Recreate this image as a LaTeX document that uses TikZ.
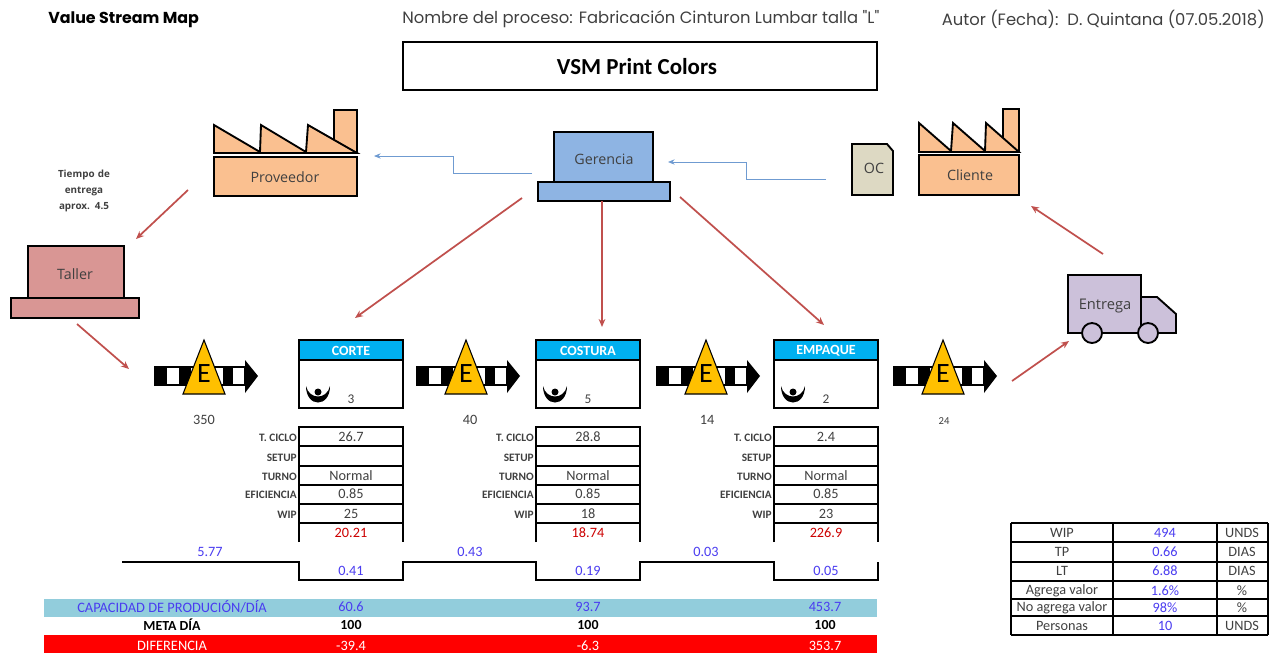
\documentclass[tikz,border=0pt]{standalone}
\usepackage{xcolor}
\usepackage{fontspec}
\usepackage{tikz}
\usetikzlibrary{arrows.meta}
\setmainfont{Carlito}
\newfontfamily\gothicfont{Poppins}
\newfontfamily\shapefont{Open Sans}
\definecolor{factoryorange}{HTML}{FAC090}
\definecolor{tallerrose}{HTML}{D99694}
\definecolor{gerenciablue}{HTML}{8EB4E3}
\definecolor{truckviolet}{HTML}{CCC1DA}
\definecolor{ocbeige}{HTML}{DDD9C3}
\definecolor{headercyan}{HTML}{00B0F0}
\definecolor{bandcyan}{HTML}{92CDDC}
\definecolor{stockyellow}{HTML}{FFC000}
\definecolor{flowred}{HTML}{C0504D}
\definecolor{infoblue}{HTML}{6F9BD1}
\definecolor{numblue}{HTML}{4A3CF0}
\definecolor{inkgray}{HTML}{404040}
\tikzset{
  box/.style={draw=black,line width=1.4pt,line join=miter},
  cell/.style={draw=black,line width=1.1pt},
  pushflow/.style={flowred,line width=1.3pt,-{Stealth[length=6pt,width=5pt]}},
  infoflow/.style={infoblue,line width=0.6pt,-{Stealth[length=5pt,width=4pt]}},
  shapetext/.style={font=\shapefont\fontsize{10.7}{12}\selectfont,text=inkgray},
  headtext/.style={inner sep=0pt,font=\gothicfont\fontsize{12.3}{14}\selectfont,text=inkgray},
  val/.style={font=\fontsize{10.7}{12}\selectfont,text=inkgray},
  blueval/.style={font=\fontsize{10.7}{12}\selectfont,text=numblue},
  redval/.style={font=\fontsize{10.7}{12}\selectfont,text=red!80!black},
  rowlabel/.style={anchor=east,inner sep=0pt,font=\bfseries\fontsize{8.5}{10}\selectfont,text=inkgray},
  bandtext/.style={font=\bfseries\fontsize{10.4}{12}\selectfont}
}
\begin{document}
\begin{tikzpicture}[x=0.75pt,y=-0.75pt]
    \useasboundingbox (0,0) rectangle (1276,653);

    \node[headtext,font=\gothicfont\bfseries\fontsize{11.9}{14}\selectfont,text=black,anchor=west] (vsmtag) at (48,20) {Value Stream Map};
    \node[headtext,anchor=west] (nombre) at (402,19) {Nombre del proceso: Fabricación Cinturon Lumbar talla "L"};
    \node[headtext,anchor=east] (autor) at (1265,19) {Autor (Fecha):\ \ D. Quintana (07.05.2018)};
    \draw[box] (403,42) rectangle (877,90);
    \node[font=\bfseries\fontsize{17.2}{20}\selectfont] (titulo) at (637,67) {VSM Print Colors};

    \draw[box,fill=factoryorange] (334,110) rectangle (357,153);
    \draw[box,fill=factoryorange] (214,153) -- (214,125) -- (260,152) -- (261,125) -- (306,152) -- (308,125) -- (357,153) -- cycle;
    \draw[box,fill=factoryorange] (214,157) rectangle (357,196);
    \node[shapetext] (proveedor) at (285,177) {Proveedor};

    \draw[box,fill=factoryorange] (1003,109) rectangle (1019,152);
    \draw[box,fill=factoryorange] (919,152) -- (919,123) -- (951,151) -- (953,123) -- (985,151) -- (986,123) -- (1019,152) -- cycle;
    \draw[box,fill=factoryorange] (919,155) rectangle (1019,195);
    \node[shapetext] (cliente) at (970,175) {Cliente};

    \draw[box,fill=ocbeige] (852,144) -- (887,144) -- (893,151) -- (893,195) -- (852,195) -- cycle;
    \node[shapetext] (oc) at (874,168) {OC};

    \draw[box,fill=gerenciablue] (554,132) rectangle (653,182);
    \draw[box,fill=gerenciablue] (538,182) rectangle (670,201);
    \node[shapetext] (gerencia) at (604,159) {Gerencia};

    \draw[box,fill=tallerrose] (28,246) rectangle (124,298);
    \draw[box,fill=tallerrose] (11,298) rectangle (139,318);
    \node[shapetext] (taller) at (75,274) {Taller};

    \node[font=\shapefont\bfseries\fontsize{7.4}{8}\selectfont,text=inkgray,align=center,inner sep=0pt,text width=60pt] (tiempo) at (84,191) {Tiempo de\\[4pt]entrega\\[4pt]aprox. 4.5};

    \draw[box,fill=truckviolet] (1141,297) -- (1157,297) -- (1176,314) -- (1176,333) -- (1141,333) -- cycle;
    \draw[box,fill=truckviolet] (1068,275) rectangle (1141,333);
    \draw[box,fill=truckviolet] (1092,333) circle (10);
    \draw[box,fill=truckviolet] (1148,333) circle (10);
    \node[shapetext,font=\shapefont\fontsize{11}{12}\selectfont] (entrega) at (1105,306) {Entrega};

    \foreach \c/\name/\num/\numx/\numy/\numsize in {204/a/350/204/420/10.7,466/b/40/470/420/10.7,706/c/14/707/420/10.7,943/d/24/944/421/8}{
      \draw[black,line width=0.8pt] ({\c-49},367) rectangle ({\c+41},385);
      \fill[black] ({\c-49},367) rectangle ({\c-37},385);
      \fill[black] ({\c-25},367) rectangle ({\c-13},385);
      \fill[black] ({\c+19},367) rectangle ({\c+29},385);
      \fill[black] ({\c+41},360) -- ({\c+54},376) -- ({\c+41},393) -- cycle;
      \draw[draw=black,line width=0.8pt,fill=stockyellow] ({\c-21},394) -- (\c,340) -- ({\c+21},394) -- cycle;
      \node[font=\fontsize{21}{24}\selectfont] (stock\name) at (\c,374) {E};
      \node[val,font=\fontsize{\numsize}{12}\selectfont] (num\name) at (\numx,\numy) {\num};
    }

    \foreach \x/\name/\title/\ops/\ciclo/\wip/\rate/\vatime in {
      299/corte/CORTE/3/26.7/25/20.21/0.41,
      536/costura/COSTURA/5/28.8/18/18.74/0.19,
      774/empaque/EMPAQUE/2/2.4/23/226.9/0.05}{
      \fill[headercyan] (\x,340) rectangle ({\x+104},360);
      \draw[box] (\x,340) rectangle ({\x+104},408);
      \draw[box] (\x,360) -- ({\x+104},360);
      \node[font=\bfseries\fontsize{10.5}{12}\selectfont,text=white] (\name) at ({\x+52},351) {\title};
      \fill[black] ({\x+19},392) circle (3.5);
      \fill[black] ({\x+7},386) .. controls ({\x+7},408) and ({\x+31},408) .. ({\x+31},386) .. controls ({\x+28},400) and ({\x+10},400) .. cycle;
      \node[font=\fontsize{10}{11}\selectfont,text=inkgray] (ops\name) at ({\x+52},399) {\ops};
      \draw[cell] (\x,542) -- (\x,427) -- ({\x+104},427) -- ({\x+104},542);
      \foreach \y in {446,466,485,504,523}{
        \draw[cell] (\x,\y) -- ({\x+104},\y);
      }
      \node[rowlabel] (lciclo\name) at ({\x-2},438) {T. CICLO};
      \node[rowlabel] (lsetup\name) at ({\x-2},458) {SETUP};
      \node[rowlabel] (lturno\name) at ({\x-2},477) {TURNO};
      \node[rowlabel] (lefic\name) at ({\x-2},495) {EFICIENCIA};
      \node[rowlabel] (lwip\name) at ({\x-2},515) {WIP};
      \node[val] (ciclo\name) at ({\x+52},437) {\ciclo};
      \node[val] (turno\name) at ({\x+52},476) {Normal};
      \node[val] (efic\name) at ({\x+52},494) {0.85};
      \node[val] (wip\name) at ({\x+52},514) {\wip};
      \node[redval] (rate\name) at ({\x+52},533) {\rate};
      \node[blueval] (va\name) at ({\x+52},571) {\vatime};
    }

    \draw[black,line width=1.3pt] (122,562) -- (299,562) -- (299,580) -- (403,580) -- (403,562) -- (536,562) -- (536,580) -- (640,580) -- (640,562) -- (774,562) -- (774,580) -- (878,580) -- (878,562);
    \node[blueval] (nvaa) at (210,552) {5.77};
    \node[blueval] (nvab) at (470,552) {0.43};
    \node[blueval] (nvac) at (706,552) {0.03};

    \fill[bandcyan] (44,599) rectangle (877,617);
    \fill[red] (44,635) rectangle (877,653);
    \node[bandtext,text=numblue,font=\fontsize{10.8}{12}\selectfont] (capacidad) at (172,607) {CAPACIDAD DE PRODUCIÓN/DÍA};
    \node[bandtext] (meta) at (172,625) {META DÍA};
    \node[bandtext,font=\fontsize{10.8}{12}\selectfont,text=white] (diferencia) at (172,646) {DIFERENCIA};
    \foreach \x/\name/\capval/\gapval in {351/a/60.6/-39.4,588/b/93.7/-6.3,825/c/453.7/353.7}{
      \node[blueval] (cap\name) at (\x,607) {\capval};
      \node[bandtext] (meta\name) at (\x,625) {100};
      \node[val,text=white] (gap\name) at (\x,646) {\gapval};
    }

    \foreach \y in {523,542,562,581,599,616,635}{
      \draw[cell] (1011,\y) -- (1268,\y);
    }
    \foreach \x in {1011,1113,1217,1268}{
      \draw[cell] (\x,523) -- (\x,635);
    }
    \foreach \y/\name/\label/\num/\unit in {533/a/WIP/494/UNDS,552/b/TP/0.66/DIAS,571/c/LT/6.88/DIAS,591/d/Agrega valor/1.6\%/\%,608/e/No agrega valor/98\%/\%,626/f/Personas/10/UNDS}{
      \node[val] (sumlabel\name) at (1062,\y) {\label};
      \node[blueval] (sumnum\name) at (1165,\y) {\num};
      \node[val] (sumunit\name) at (1242,\y) {\unit};
    }

    \coordinate (provout) at (188,190);
    \coordinate (tallerin) at (136,239);
    \coordinate (tallerout) at (77,324);
    \coordinate (stockin) at (129,369);
    \coordinate (gerout1) at (522,198);
    \coordinate (cortein) at (355,318);
    \coordinate (gerout2) at (602,201);
    \coordinate (costurain) at (602,327);
    \coordinate (gerout3) at (680,197);
    \coordinate (empaquein) at (824,325);
    \coordinate (stockout) at (1012,381);
    \coordinate (truckin) at (1069,341);
    \coordinate (truckout) at (1103,254);
    \coordinate (clientein) at (1031,206);
    \coordinate (gerinfo) at (532,173);
    \coordinate (provinfo) at (374,156);
    \coordinate (ocinfo) at (826,179);
    \coordinate (gerback) at (668,162);

    \draw[pushflow] (provout) -- (tallerin);
    \draw[pushflow] (tallerout) -- (stockin);
    \draw[pushflow] (gerout1) -- (cortein);
    \draw[pushflow] (gerout2) -- (costurain);
    \draw[pushflow] (gerout3) -- (empaquein);
    \draw[pushflow] (stockout) -- (truckin);
    \draw[pushflow] (truckout) -- (clientein);
    \draw[infoflow] (gerinfo) -- (453,173) -- (453,156) -- (provinfo);
    \draw[infoflow] (ocinfo) -- (746,179) -- (746,162) -- (gerback);
\end{tikzpicture}
\end{document}
